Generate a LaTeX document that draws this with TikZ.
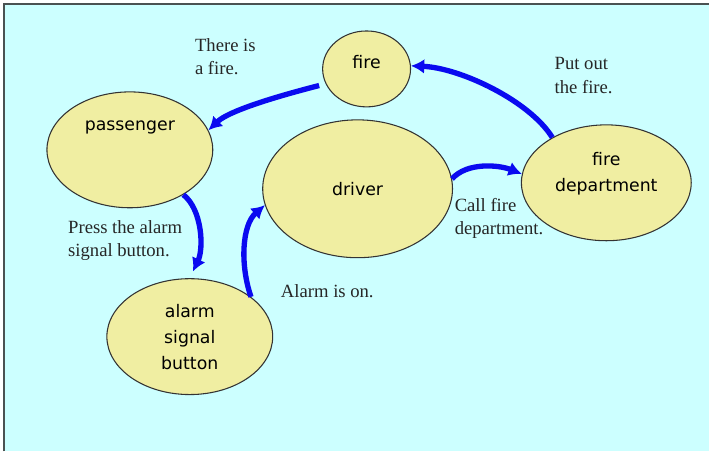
\documentclass[tikz,border=0pt]{standalone}
\usepackage{fontspec}
\setmainfont{Liberation Serif}
\newfontfamily\bubblefont{DejaVu Sans}
\usetikzlibrary{shapes.geometric,arrows.meta}
\definecolor{sky}{HTML}{CCFFFF}
\definecolor{bubble}{HTML}{F0EEA2}
\definecolor{rim}{HTML}{333333}
\definecolor{flow}{HTML}{0A0AF0}
\definecolor{frame}{HTML}{4A5252}

\begin{document}
\begin{tikzpicture}[
  x=0.75pt, y=-0.75pt,
  st/.style={ellipse, draw=rim, fill=bubble, line width=0.8pt, inner sep=0pt,
             align=center, font=\bubblefont\fontsize{13}{19.5}\selectfont},
  lbl/.style={anchor=west, align=left, inner sep=0pt, text=black!85,
              font=\fontsize{14}{17.5}\selectfont},
  arr/.style={-{Latex[length=10pt,width=11pt]}, draw=flow, line width=4pt}
]
% page and frame
\fill[white] (0,0) rectangle (710,452);
\fill[sky] (4,4) rectangle (710,452);
\draw[frame, line width=1.2pt] (4,452) -- (4,4) -- (710,4);
\useasboundingbox (0,0) rectangle (710,452);

% the actors
\node[st, minimum width=66pt, minimum height=57pt, text depth=10pt] (fire) at (367,69) {fire};
\node[st, minimum width=124.5pt, minimum height=87pt, text depth=36pt] (pass) at (130,150) {passenger};
\node[st, minimum width=142.5pt, minimum height=103.5pt] (drv) at (358,189) {driver};
\node[st, minimum width=127.5pt, minimum height=87pt, text depth=17pt] (dept) at (607,183) {fire\\department};
\node[st, minimum width=124.5pt, minimum height=87pt] (alarm) at (190,337) {alarm\\signal\\button};

% what happens
\node[lbl] (l1) at (195,56.5) {There is\\a fire.};
\node[lbl] (l2) at (68,241) {Press the alarm\\signal button.};
\node[lbl] (l3) at (281,291) {Alarm is on.};
\node[lbl] (l4) at (455,219) {Call fire\\department.};
\node[lbl] (l5) at (555,75.5) {Put out\\the fire.};

% arrows
\draw[arr, shorten <=5pt] (fire.200) .. controls +(-27,7) and +(23,-22) .. (pass.14);
\draw[arr] (pass.320) .. controls +(19,15) and +(11,-23) .. ([yshift=5pt]alarm.87);
\draw[arr] (alarm.33) .. controls +(-11,-32) and +(-23,20) .. (drv.190);
\draw[arr] (drv.6) .. controls +(15,-17) and +(-23,-9) .. (dept.174);
\draw[arr] (dept.140) .. controls +(-23,-37) and +(49,2) .. (fire.4);
\end{tikzpicture}
\end{document}
